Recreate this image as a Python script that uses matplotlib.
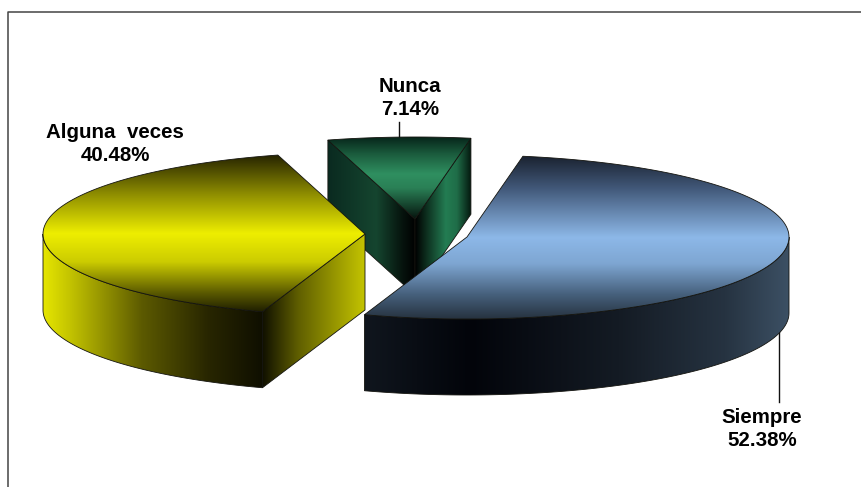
import numpy as np
import matplotlib
matplotlib.use("Agg")
import matplotlib.pyplot as plt
from matplotlib.colors import LinearSegmentedColormap
from matplotlib.patches import Polygon

labels = ["Siempre", "Alguna  veces", "Nunca"]
values = [52.38, 40.48, 7.14]

# slice look, same order as the values
centers = [(467, 237), (365, 234), (415, 219)]
top_colors = [
    [(0, "#1a2230"), (0.2, "#42597a"), (0.5, "#8db8e8"), (0.66, "#7ea6d2"), (0.85, "#46607c"), (1, "#26323f")],
    [(0, "#262400"), (0.25, "#8f8e00"), (0.5, "#eeee00"), (0.68, "#cccc00"), (0.88, "#5a5900"), (1, "#1e1e00")],
    [(0, "#07251a"), (0.2, "#1a5a3c"), (0.45, "#2f8f60"), (0.62, "#2a8056"), (1, "#06140e")],
]

RX, RY, DEPTH = 322, 82, 76
START = 80.0

plt.rcParams["font.family"] = ["Liberation Sans", "DejaVu Sans"]
fig = plt.figure(figsize=(8.61, 4.87), dpi=100)
ax = fig.add_axes([0, 0, 1, 1])
ax.axis("off")


def arc(c, a1, a2, n=120):
    t = np.radians(np.linspace(a1, a2, n))
    return np.column_stack([c[0] + RX * np.cos(t), c[1] - RY * np.sin(t)])


def shade(xy, stops, vertical, lw=0.6):
    global level
    xy = np.asarray(xy)
    patch = Polygon(xy, closed=True, fill=False, edgecolor="#14140f", lw=lw, transform=ax.transData)
    ax.add_patch(patch)
    cmap = LinearSegmentedColormap.from_list("g", stops, N=512)
    g = np.linspace(0, 1, 512)
    g = g[:, None] if vertical else g[None, :]
    x0, x1, y0, y1 = xy[:, 0].min(), xy[:, 0].max(), xy[:, 1].min(), xy[:, 1].max()
    im = ax.imshow(g, cmap=cmap, extent=(x0, x1, y1, y0), aspect="auto", origin="upper", vmin=0, vmax=1)
    im.set_clip_path(patch)
    # stack this shape above what was drawn before it
    level += 1
    im.set_zorder(level)
    patch.set_zorder(level + 0.5)


level = 2
cum = START - np.cumsum([0] + values) * 3.6
a_blue = (cum[0], cum[1])
a_yellow = (cum[1], cum[2])
a_green = (cum[2], cum[3])

# green, drawn first because the other two sit in front
c = centers[2]
top = np.vstack([[c], arc(c, a_green[0], a_green[1])])
p_left = top[1]
p_right = top[-1]
down = np.array([0, DEPTH])
shade([c, p_left, p_left + down, np.array(c) + down], [(0, "#0a2a20"), (0.55, "#15452f"), (0.85, "#06130d"), (1, "#000000")], False)
shade([c, p_right, p_right + down, np.array(c) + down], [(0, "#000000"), (0.55, "#237c52"), (0.75, "#1f6d48"), (1, "#04190f")], False)
shade(top, top_colors[2], True)

# yellow
c = centers[1]
top = np.vstack([[c], arc(c, a_yellow[0], a_yellow[1])])
front = arc(c, a_yellow[0], -180)
corner = front[0]
shade(np.vstack([front, (front + down)[::-1]]), [(0, "#e6e600"), (0.12, "#c4c400"), (0.45, "#5c5a00"), (0.75, "#282600"), (1, "#0f0f00")], False)
shade([c, corner, corner + down, np.array(c) + down], [(0, "#0f0f00"), (0.35, "#5f5e00"), (1, "#c4c400")], False)
shade(top, top_colors[1], True)

# blue
c = centers[0]
top = np.vstack([[c], arc(c, a_blue[0], a_blue[1])])
front = arc(c, a_blue[1], 0)
shade(np.vstack([front, (front + down)[::-1]]), [(0, "#10161e"), (0.25, "#02040a"), (0.6, "#141b24"), (0.85, "#263341"), (1, "#3c5064")], False)
shade(top, top_colors[0], True)

# frame and leader lines
ax.plot([8, 8, 861], [487, 12, 12], color="#444444", lw=1.1, zorder=1)
ax.plot([399, 399], [122, 137], color="#111111", lw=1, zorder=1)
ax.plot([779, 779], [332, 402], color="#111111", lw=1, zorder=1)

label_pos = [(762, 429), (115, 144), (410, 98)]
for name, val, pos in zip(labels, values, label_pos):
    ax.text(pos[0], pos[1], f"{name}\n{val:.2f}%", ha="center", va="center", fontsize=14.8,
            fontweight="bold", color="#000000", linespacing=1.32, zorder=20)

ax.set_xlim(0, 861)
ax.set_ylim(487, 0)
fig.savefig("out.png", dpi=100, facecolor="white")
